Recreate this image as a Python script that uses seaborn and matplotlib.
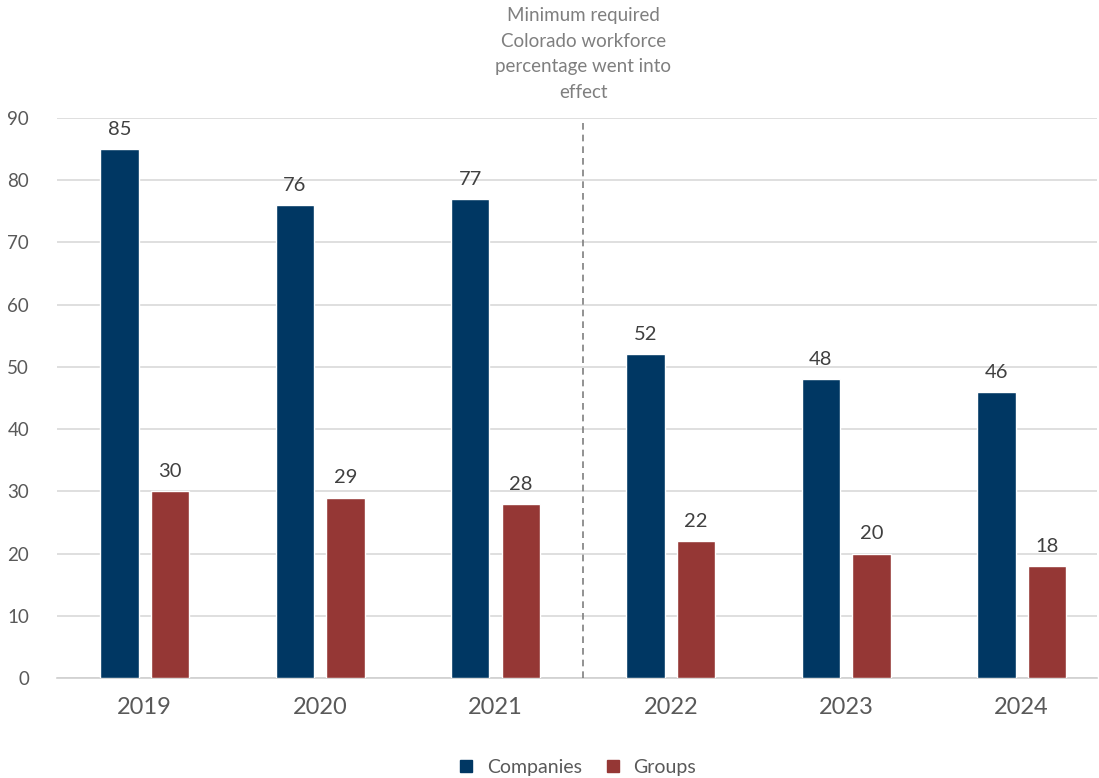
import matplotlib
matplotlib.use("Agg")
import matplotlib.pyplot as plt
import matplotlib.transforms as mtransforms
import seaborn as sns
import pandas as pd
from matplotlib.lines import Line2D

years = ["2019", "2020", "2021", "2022", "2023", "2024"]
companies = [85, 76, 77, 52, 48, 46]
groups = [30, 29, 28, 22, 20, 18]
series_names = ["Companies", "Groups"]
annotation_text = "Minimum required\nColorado workforce\npercentage went into\neffect"

colors = {"Companies": "#003763", "Groups": "#953735"}

df = pd.DataFrame({
    "Year": years * 2,
    "Value": companies + groups,
    "Series": ["Companies"] * len(years) + ["Groups"] * len(years),
})

sns.set_style("white")
plt.rcParams["font.family"] = ["Lato", "DejaVu Sans"]

fig = plt.figure(figsize=(10.99, 7.78), dpi=100)
ax = fig.add_axes([57 / 1099, 1 - 678 / 778, 1040 / 1099, 560 / 778])

sns.barplot(data=df, x="Year", y="Value", hue="Series", palette=colors,
            saturation=1, width=0.576, gap=0.24, ax=ax, legend=False, zorder=3)

ax.set_ylim(0, 90)
ax.set_xlim(-0.5, 5.43)
ax.set_yticks(range(0, 91, 10))
ax.yaxis.grid(True, color="#d9d9d9", linewidth=1.2, zorder=0)
ax.set_axisbelow(True)
for s in ["top", "right", "left"]:
    ax.spines[s].set_visible(False)
ax.spines["bottom"].set_color("#d0d0d0")
ax.spines["bottom"].set_linewidth(1.2)
ax.tick_params(axis="y", length=0, labelsize=13.5, labelcolor="#595959", pad=20)
ax.tick_params(axis="x", length=0, labelsize=17, labelcolor="#595959", pad=14)
ax.set_xlabel("")
ax.set_ylabel("")

for container in ax.containers:
    ax.bar_label(container, padding=8, fontsize=14.5, color="#404040")

ax.axvline(2.5, ymin=0, ymax=0.995, color="#7f7f7f", linestyle=(0, (4, 3)), linewidth=1.2, zorder=4)
ann_trans = mtransforms.blended_transform_factory(ax.transData, fig.transFigure)
ax.text(2.5, 1 - 7 / 778, annotation_text, ha="center", va="top", fontsize=13.5,
        color="#7f7f7f", linespacing=1.62, transform=ann_trans, clip_on=False)

handles = [Line2D([0], [0], marker="s", linestyle="", markersize=9,
                  markerfacecolor=colors[n], markeredgecolor=colors[n]) for n in series_names]
fig.legend(handles, series_names, loc="lower center", bbox_to_anchor=(0.52, -0.02),
           ncol=2, frameon=False, fontsize=14, labelcolor="#595959",
           handletextpad=0.05, columnspacing=0.6)

fig.savefig("out.png", dpi=100)
